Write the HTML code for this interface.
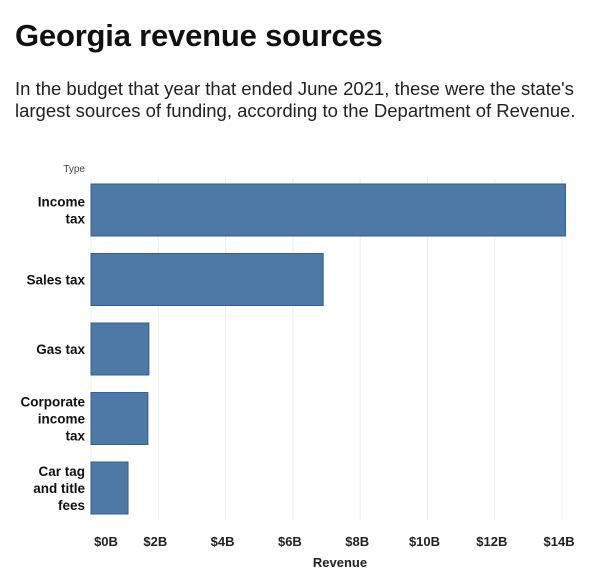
<!DOCTYPE html>
<html><head><meta charset="utf-8"><style>
body{margin:0;background:#fff;font-family:"Liberation Sans",Arial,sans-serif;}
#wrap{position:relative;width:600px;height:583px;overflow:hidden}
h1{position:absolute;left:15px;top:18px;margin:0;font-size:31px;font-weight:bold;color:#111;letter-spacing:-0.2px}
p{position:absolute;left:15px;top:78px;margin:0;font-size:18.5px;line-height:22px;color:#222;width:580px}
</style></head><body><div id="wrap">
<h1>Georgia revenue sources</h1>
<p>In the budget that year that ended June 2021, these were the state's largest sources of funding, according to the Department of Revenue.</p>
<svg id="chart" width="600" height="583" style="position:absolute;left:0;top:0"></svg>
</div>
<script>
const categories=[["Income","tax"],["Sales tax"],["Gas tax"],["Corporate","income","tax"],["Car tag","and title","fees"]];
const values=[14.1,6.9,1.72,1.69,1.1];
const ticks=[0,2,4,6,8,10,12,14];
const tickLabels=["$0B","$2B","$4B","$6B","$8B","$10B","$12B","$14B"];
const svg=document.getElementById('chart');const NS="http://www.w3.org/2000/svg";
const x0=91,pxPer=33.65,top0=184,step=69.5,bh=52;
const x=v=>x0+v*pxPer;
function mk(t,a,txt){const e=document.createElementNS(NS,t);for(const k in a)e.setAttribute(k,a[k]);if(txt!=null)e.textContent=txt;svg.appendChild(e);return e;}
ticks.forEach((t,i)=>{
 const g=mk('line',{x1:x(t),x2:x(t),y1:178,y2:520,stroke:'#eee','stroke-width':1});
 
 
 const l=mk('text',{x:x(t)-(i==0?-15:3),y:546,'text-anchor':'middle','font-size':13,'font-weight':'bold',fill:'#222'},tickLabels[i]);
 
 
});
const ty=mk('text',{x:85,y:172,'text-anchor':'end','font-size':10,fill:'#444'},'Type');


const xt=mk('text',{x:340,y:567,'text-anchor':'middle','font-size':13,'font-weight':'bold',fill:'#222'},'Revenue');


values.forEach((v,i)=>{
 const y=top0+i*step;
 const r=mk('rect',{x:x0,y:y,width:x(v)-x0,height:bh,fill:'#4e79a7',stroke:'#2f5f8f','stroke-width':1});
 
 
 const lines=categories[i];const lh=17;const cy=y+bh/2-(lines.length-1)*lh/2+5;
 lines.forEach((s,j)=>{
  const t=mk('text',{x:85,y:cy+j*lh,'text-anchor':'end','font-size':13.5,'font-weight':'bold',fill:'#111'},s);
  
  
 });
});
</script></body></html>
